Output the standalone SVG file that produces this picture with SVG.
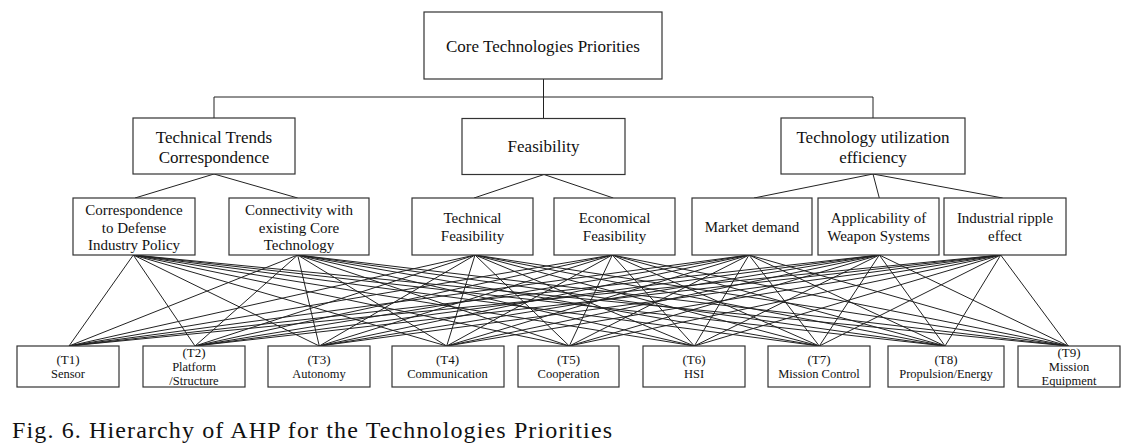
<svg xmlns="http://www.w3.org/2000/svg" width="1139" height="446" viewBox="0 0 1139 446">
<style>
.box{fill:#fff;stroke:#333;stroke-width:1.2}
.t{font-family:"Liberation Serif","Times New Roman",serif;fill:#111;text-anchor:middle}
.l1{font-size:17px}
.l3{font-size:15px}
.l4{font-size:12.5px}
.l4b{font-size:13px}
.cn{stroke:#222;stroke-width:1;fill:none}
.cap{font-family:"Liberation Serif","Times New Roman",serif;font-size:24px;fill:#111}
</style>
<defs>
<clipPath id="c2"><rect x="143" y="346" width="102" height="41"/></clipPath>
<clipPath id="c9"><rect x="1018" y="346" width="102" height="41"/></clipPath>
</defs>
<rect width="1139" height="446" fill="#fff"/>
<g id="connectors" class="cn">
<path d="M543.5 79V97M214 97H873M214 97V118M543.5 97V118.5M873 97V118"/>
<path d="M214 174L135 198M214 174L297.7 198M544 174.5L474 198M544 174.5L613.3 198M873 174L754 198M873 174L879.3 198M873 174L1002.7 198"/>
<g id="crit-tech-lines">
<path d="M133.3 255L69 346M133.3 255L195 346M133.3 255L319.3 346M133.3 255L446.7 346M133.3 255L569.3 346M133.3 255L694.3 346M133.3 255L819.3 346M133.3 255L945 346M133.3 255L1068.3 346"/>
<path d="M297.7 255L69 346M297.7 255L195 346M297.7 255L319.3 346M297.7 255L446.7 346M297.7 255L569.3 346M297.7 255L694.3 346M297.7 255L819.3 346M297.7 255L945 346M297.7 255L1068.3 346"/>
<path d="M475 255L69 346M475 255L195 346M475 255L319.3 346M475 255L446.7 346M475 255L569.3 346M475 255L694.3 346M475 255L819.3 346M475 255L945 346M475 255L1068.3 346"/>
<path d="M612.3 255L69 346M612.3 255L195 346M612.3 255L319.3 346M612.3 255L446.7 346M612.3 255L569.3 346M612.3 255L694.3 346M612.3 255L819.3 346M612.3 255L945 346M612.3 255L1068.3 346"/>
<path d="M749 255L69 346M749 255L195 346M749 255L319.3 346M749 255L446.7 346M749 255L569.3 346M749 255L694.3 346M749 255L819.3 346M749 255L945 346M749 255L1068.3 346"/>
<path d="M879.3 255L69 346M879.3 255L195 346M879.3 255L319.3 346M879.3 255L446.7 346M879.3 255L569.3 346M879.3 255L694.3 346M879.3 255L819.3 346M879.3 255L945 346M879.3 255L1068.3 346"/>
<path d="M1000.7 255L69 346M1000.7 255L195 346M1000.7 255L319.3 346M1000.7 255L446.7 346M1000.7 255L569.3 346M1000.7 255L694.3 346M1000.7 255L819.3 346M1000.7 255L945 346M1000.7 255L1068.3 346"/>
</g>
</g>
<g id="goal"><rect class="box" x="424" y="12" width="238" height="67"/><text class="t l1" x="543" y="52">Core Technologies Priorities</text></g>
<g id="c-tt"><rect class="box" x="133" y="118" width="162" height="56"/><text class="t l1" x="214" y="143">Technical Trends</text><text class="t l1" x="214" y="163">Correspondence</text></g>
<g id="c-f"><rect class="box" x="462" y="118.5" width="163" height="56"/><text class="t l1" x="543.5" y="152">Feasibility</text></g>
<g id="c-tu"><rect class="box" x="781" y="118" width="184" height="56"/><text class="t l1" x="873" y="143">Technology utilization</text><text class="t l1" x="873" y="163">efficiency</text></g>
<g id="s1"><rect class="box" x="73" y="198" width="122" height="57"/><text class="t l3" x="134" y="215">Correspondence</text><text class="t l3" x="134" y="232.5">to Defense</text><text class="t l3" x="134" y="250">Industry Policy</text></g>
<g id="s2"><rect class="box" x="229" y="198" width="140" height="57"/><text class="t l3" x="299" y="215">Connectivity with</text><text class="t l3" x="299" y="232.5">existing Core</text><text class="t l3" x="299" y="250">Technology</text></g>
<g id="s3"><rect class="box" x="412" y="198" width="121" height="57"/><text class="t l3" x="472.5" y="223">Technical</text><text class="t l3" x="472.5" y="240.5">Feasibility</text></g>
<g id="s4"><rect class="box" x="554" y="198" width="121" height="57"/><text class="t l3" x="614.5" y="223">Economical</text><text class="t l3" x="614.5" y="240.5">Feasibility</text></g>
<g id="s5"><rect class="box" x="692" y="198" width="120" height="57"/><text class="t l3" x="752" y="231.5">Market demand</text></g>
<g id="s6"><rect class="box" x="818" y="198" width="121" height="57"/><text class="t l3" x="878.5" y="223">Applicability of</text><text class="t l3" x="878.5" y="240.5">Weapon Systems</text></g>
<g id="s7"><rect class="box" x="944" y="198" width="122" height="57"/><text class="t l3" x="1005" y="223">Industrial ripple</text><text class="t l3" x="1005" y="240.5">effect</text></g>
<g id="T1"><rect class="box" x="17" y="346" width="102" height="41"/><text class="t l4b" x="68" y="364">(T1)</text><text class="t l4" x="68" y="377.5">Sensor</text></g>
<g id="T2"><rect class="box" x="143" y="346" width="102" height="41"/><g clip-path="url(#c2)"><text class="t l4b" x="194" y="357">(T2)</text><text class="t l4" x="194" y="370.5">Platform</text><text class="t l4" x="194" y="385">/Structure</text></g></g>
<g id="T3"><rect class="box" x="268" y="346" width="102" height="41"/><text class="t l4b" x="319" y="364">(T3)</text><text class="t l4" x="319" y="377.5">Autonomy</text></g>
<g id="T4"><rect class="box" x="392" y="346" width="112" height="41"/><text class="t l4b" x="447.5" y="364">(T4)</text><text class="t l4" x="447.5" y="377.5">Communication</text></g>
<g id="T5"><rect class="box" x="518" y="346" width="101" height="41"/><text class="t l4b" x="568.5" y="364">(T5)</text><text class="t l4" x="568.5" y="377.5">Cooperation</text></g>
<g id="T6"><rect class="box" x="643" y="346" width="102" height="41"/><text class="t l4b" x="694" y="364">(T6)</text><text class="t l4" x="694" y="377.5">HSI</text></g>
<g id="T7"><rect class="box" x="768" y="346" width="102" height="41"/><text class="t l4b" x="819" y="364">(T7)</text><text class="t l4" x="819" y="377.5">Mission Control</text></g>
<g id="T8"><rect class="box" x="888" y="346" width="116" height="41"/><text class="t l4b" x="946" y="364">(T8)</text><text class="t l4" x="946" y="377.5">Propulsion/Energy</text></g>
<g id="T9"><rect class="box" x="1018" y="346" width="102" height="41"/><g clip-path="url(#c9)"><text class="t l4b" x="1069" y="357">(T9)</text><text class="t l4" x="1069" y="370.5">Mission</text><text class="t l4" x="1069" y="385">Equipment</text></g></g>
<text class="cap" x="12" y="438" textLength="600" lengthAdjust="spacing">Fig. 6. Hierarchy of AHP for the Technologies Priorities</text>
</svg>
